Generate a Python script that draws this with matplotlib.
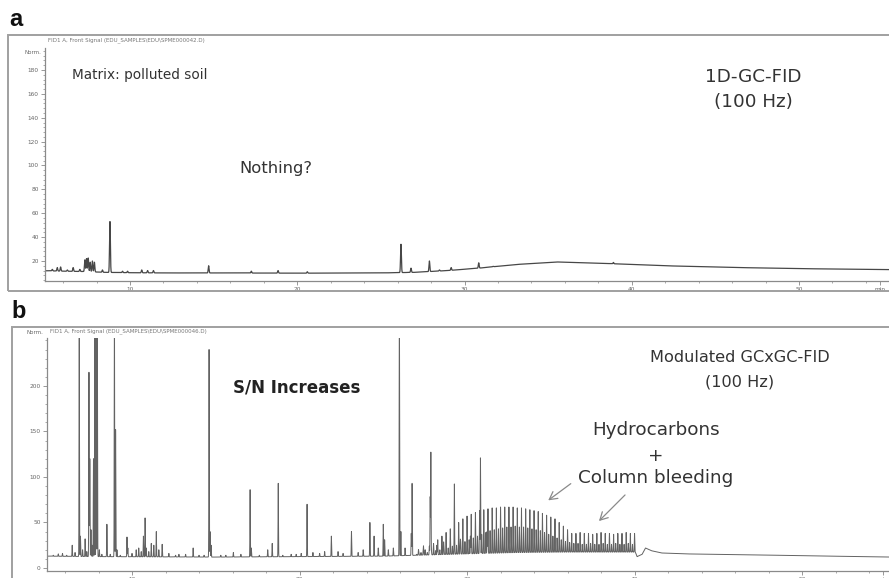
import numpy as np
import matplotlib
matplotlib.use("Agg")
import matplotlib.pyplot as plt
from matplotlib.patches import Rectangle, FancyArrowPatch
from matplotlib.ticker import MultipleLocator, FixedLocator

plt.rcParams['font.family'] = ['DejaVu Sans']

W, H = 889, 578

# ---------------- panel a: 1D-GC-FID (retention time in min, signal in Norm.) ----------------
a_base_t = [5.0, 6.0, 7.2, 8.5, 10.0, 12.0, 15.0, 20.0, 25.0, 27.0, 29.0, 31.0, 33.0, 35.5,
            38.0, 42.0, 46.0, 50.0, 55.4]
a_base_v = [11.8, 11.5, 11.2, 10.5, 10.2, 10.0, 10.0, 9.8, 10.0, 10.5, 12.0, 14.2, 17.0, 19.2,
            18.2, 16.0, 14.6, 13.6, 12.8]
a_peak_t = [5.35, 5.65, 5.85, 6.25, 6.6, 7.0, 7.3, 7.4, 7.5, 7.62, 7.75, 7.87, 8.35, 8.8,
            9.55, 9.85, 10.7, 11.05, 11.4, 14.7, 17.25, 18.85, 20.6, 26.2, 26.8, 27.9, 28.5,
            29.2, 30.85, 31.7, 38.9]
a_peak_v = [13.0, 14.5, 15.0, 12.5, 14.5, 13.0, 21.0, 22.0, 22.5, 19.0, 20.0, 19.0, 12.5, 53.0,
            11.5, 11.5, 12.5, 12.0, 12.0, 16.0, 11.5, 12.0, 11.0, 34.0, 14.0, 20.0, 12.5,
            14.5, 18.5, 15.5, 18.8]

# ---------------- panel b: modulated GCxGC-FID ----------------
b_base_t = [5.0, 8.0, 15.0, 20.0, 25.0, 27.0, 29.0, 31.0, 33.0, 36.0, 40.05, 40.15, 40.45,
            40.65, 41.0, 41.6, 43.0, 47.0, 50.0, 55.4]
b_base_v = [13.0, 12.5, 12.0, 12.5, 13.0, 14.0, 15.0, 16.0, 17.0, 17.5, 17.5, 12.5, 15.0,
            22.0, 19.0, 16.5, 15.5, 14.5, 13.5, 12.0]
b_peak_t = [5.3, 5.6, 5.85, 6.1, 6.43, 6.6, 6.85, 6.92, 7.05, 7.2, 7.3, 7.43, 7.48, 7.55,
            7.62, 7.7, 7.78, 7.86, 7.93, 8.05, 8.2, 8.5, 8.7, 8.95, 9.02, 9.1, 9.3, 9.7,
            9.75, 10.0, 10.25, 10.4, 10.55, 10.68, 10.78, 10.85, 11.0, 11.15, 11.3, 11.45, 11.6,
            11.8, 12.2, 12.6, 12.8, 13.2, 13.65, 14.0, 14.3, 14.6, 14.66, 14.72, 15.3, 15.6,
            16.05, 16.5, 17.05, 17.12, 17.6, 18.1, 18.37, 18.73, 19.0, 19.5, 19.8, 20.1, 20.45,
            20.8, 21.2, 21.5, 21.9, 22.3, 22.6, 23.1, 23.5, 23.8, 24.2, 24.45, 24.7, 25.0,
            25.08, 25.3, 25.6, 25.96, 26.05, 26.3, 26.67, 26.72, 27.1, 27.4, 27.8, 27.84,
            28.2, 28.6, 29.24, 29.6, 30.2, 30.8, 31.2]
b_peak_v = [14, 15.5, 16, 14, 25, 17, 300, 35, 20, 32, 18, 215, 120, 42,
            25, 120, 300, 300, 300, 20, 15, 48, 15, 300, 152, 20, 14, 34,
            22, 16, 20, 22, 18, 35, 55, 22, 18, 27, 25, 40, 20,
            26, 16, 14, 15, 15, 22, 14, 14, 240, 40, 25, 14, 14,
            17, 15, 86, 22, 14, 20, 27, 93, 14, 15, 15, 16, 70,
            17, 16, 18, 35, 18, 16, 40, 17, 20, 50, 35, 22, 48,
            31, 20, 22, 300, 40, 22, 38, 93, 20, 24, 78, 127,
            25, 28, 67, 30, 35, 121, 40]

# modulation slices of the unresolved hump (period 0.25 min)
hump_start = 27.0
hump_period = 0.25
hump_tall = [15, 17, 20, 24, 27, 31, 35, 39, 43, 47,
             50, 54, 57, 59, 61, 63, 64, 65, 66, 66,
             67, 67, 67, 67, 66, 66, 65, 64, 63, 62,
             60, 58, 56, 54, 50, 46, 42,
             38, 38, 39, 38, 38, 37, 38, 39, 38, 38, 37, 38, 38, 39, 38, 38]
hump_short = [16, 17, 17, 18, 19, 20, 21, 22, 24, 25,
              27, 29, 31, 33, 35, 37, 39, 41, 42, 43,
              44, 45, 45, 46, 45, 45, 44, 43, 42, 41,
              39, 37, 35, 33, 31, 29, 28, 27, 27, 26,
              26, 27, 26, 26, 27, 26, 26, 27, 26, 26, 27, 26]

a_yticks = [20, 40, 60, 80, 100, 120, 140, 160, 180]
b_yticks = [0, 50, 100, 150, 200]
x_ticks = [10, 20, 30, 40, 50]


def build_trace(base_t, base_v, peak_t, peak_v, sigma, t0, t1, step):
    grid = np.arange(t0, t1, step)
    t = np.union1d(grid, np.asarray(peak_t, dtype=float))
    y = np.interp(t, base_t, base_v)
    for tp, vp in zip(peak_t, peak_v):
        amp = vp - np.interp(tp, base_t, base_v)
        y = y + amp * np.exp(-0.5 * ((t - tp) / sigma) ** 2)
    return t, y


def fx(px):
    return px / W


def fy(py):
    return 1 - py / H


fig = plt.figure(figsize=(W / 100, H / 100), dpi=100)
fig.patch.set_facecolor('white')

# outer frames of the two instrument printouts
for (x0, y0, y1) in [(8, 35, 291), (12, 327, 590)]:
    fig.add_artist(Rectangle((fx(x0), fy(y1)), 1.2, (y1 - y0) / H, transform=fig.transFigure,
                             fill=False, edgecolor='#a0a0a0', lw=1.4))


def style_axes(ax, yticks, yminor):
    for s in ['top', 'right']:
        ax.spines[s].set_visible(False)
    for s in ['left', 'bottom']:
        ax.spines[s].set_color('#8a8a8a')
        ax.spines[s].set_linewidth(0.9)
    ax.set_facecolor('none')
    ax.xaxis.set_major_locator(FixedLocator(x_ticks + [54.85]))
    ax.set_xticklabels([str(v) for v in x_ticks] + ['min'])
    ax.xaxis.set_minor_locator(MultipleLocator(2))
    ax.yaxis.set_major_locator(FixedLocator(yticks))
    ax.set_yticklabels([str(v) for v in yticks])
    ax.yaxis.set_minor_locator(MultipleLocator(yminor))
    ax.tick_params(which='major', length=3, width=0.6, color='#888', labelsize=4.2,
                   labelcolor='#666', pad=1.5)
    ax.tick_params(which='minor', length=1.6, width=0.5, color='#888')


# ---- panel a ----
axa = fig.add_axes([fx(45), fy(281), (W - 45) / W, (281 - 48) / H])
ta, ya = build_trace(a_base_t, a_base_v, a_peak_t, a_peak_v, 0.025, 4.9, 55.4, 0.004)
axa.plot(ta, ya, color='#474747', lw=0.9)
axa.set_xlim(4.916, 55.38)
axa.set_ylim(3.25, 198.4)
style_axes(axa, a_yticks, 4)

# ---- panel b ----
axb = fig.add_axes([fx(47), fy(571), (W - 47) / W, (571 - 338) / H])
slice_t = [hump_start + hump_period * k for k in range(len(hump_tall))]
short_t = [hump_start + hump_period * (k + 0.5) for k in range(len(hump_short))]
all_t = list(b_peak_t) + slice_t + short_t
all_v = list(b_peak_v) + hump_tall + hump_short
order = np.argsort(all_t)
pt = np.asarray(all_t)[order]
pv = np.asarray(all_v, dtype=float)[order]
tb, yb = build_trace(b_base_t, b_base_v, pt, pv, 0.012, 4.9, 55.4, 0.004)
axb.plot(tb, yb, color='#636363', lw=0.7)
axb.set_xlim(4.925, 55.19)
axb.set_ylim(-3.3, 252.7)
style_axes(axb, b_yticks, 10)
axb.tick_params(axis='x', which='major', pad=1.0)

# ---- header lines and units ----
hdr = dict(fontsize=4.0, color='#777', va='center', ha='left')
fig.text(fx(48), fy(40), r'FID1 A, Front Signal (EDU_SAMPLES\EDU\SPME000042.D)', **hdr)
fig.text(fx(50), fy(331), r'FID1 A, Front Signal (EDU_SAMPLES\EDU\SPME000046.D)', **hdr)
fig.text(fx(41), fy(52), 'Norm.', fontsize=4.0, color='#666', va='center', ha='right')
fig.text(fx(43), fy(333), 'Norm.', fontsize=4.0, color='#666', va='center', ha='right')

# ---- panel letters ----
letter = dict(fontsize=17, fontweight='bold', va='center', ha='left', color='#111',
              family=['Liberation Sans', 'DejaVu Sans'])
fig.text(fx(9), fy(19), 'a', **letter)
fig.text(fx(11), fy(311), 'b', **letter)

# ---- annotations ----
tc = '#333333'
fig.text(fx(72), fy(75), 'Matrix: polluted soil', fontsize=9.8, color=tc, va='center', ha='left')
fig.text(fx(753), fy(77), '1D-GC-FID', fontsize=13.2, color=tc, va='center', ha='center')
fig.text(fx(753), fy(102), '(100 Hz)', fontsize=13.2, color=tc, va='center', ha='center')
fig.text(fx(239), fy(169), 'Nothing?', fontsize=11.8, color=tc, va='center', ha='left')

fig.text(fx(233), fy(387), 'S/N Increases', fontsize=12, fontweight='bold', color='#222',
         va='center', ha='left')
fig.text(fx(740), fy(357), 'Modulated GCxGC-FID', fontsize=11.6, color=tc, va='center', ha='center')
fig.text(fx(740), fy(382), '(100 Hz)', fontsize=11.6, color=tc, va='center', ha='center')
fig.text(fx(656), fy(430), 'Hydrocarbons', fontsize=13.2, color=tc, va='center', ha='center')
fig.text(fx(656), fy(456), '+', fontsize=13.2, color=tc, va='center', ha='center')
fig.text(fx(656), fy(478), 'Column bleeding', fontsize=13.2, color=tc, va='center', ha='center')

for (x0, y0, x1, y1) in [(573, 482, 546, 502), (627, 493, 597, 523)]:
    fig.add_artist(FancyArrowPatch((fx(x0), fy(y0)), (fx(x1), fy(y1)), transform=fig.transFigure,
                                   arrowstyle='->,head_length=0.55,head_width=0.3',
                                   mutation_scale=10, color='#8a8a8a', lw=0.9))

fig.savefig('out.png', dpi=100)
